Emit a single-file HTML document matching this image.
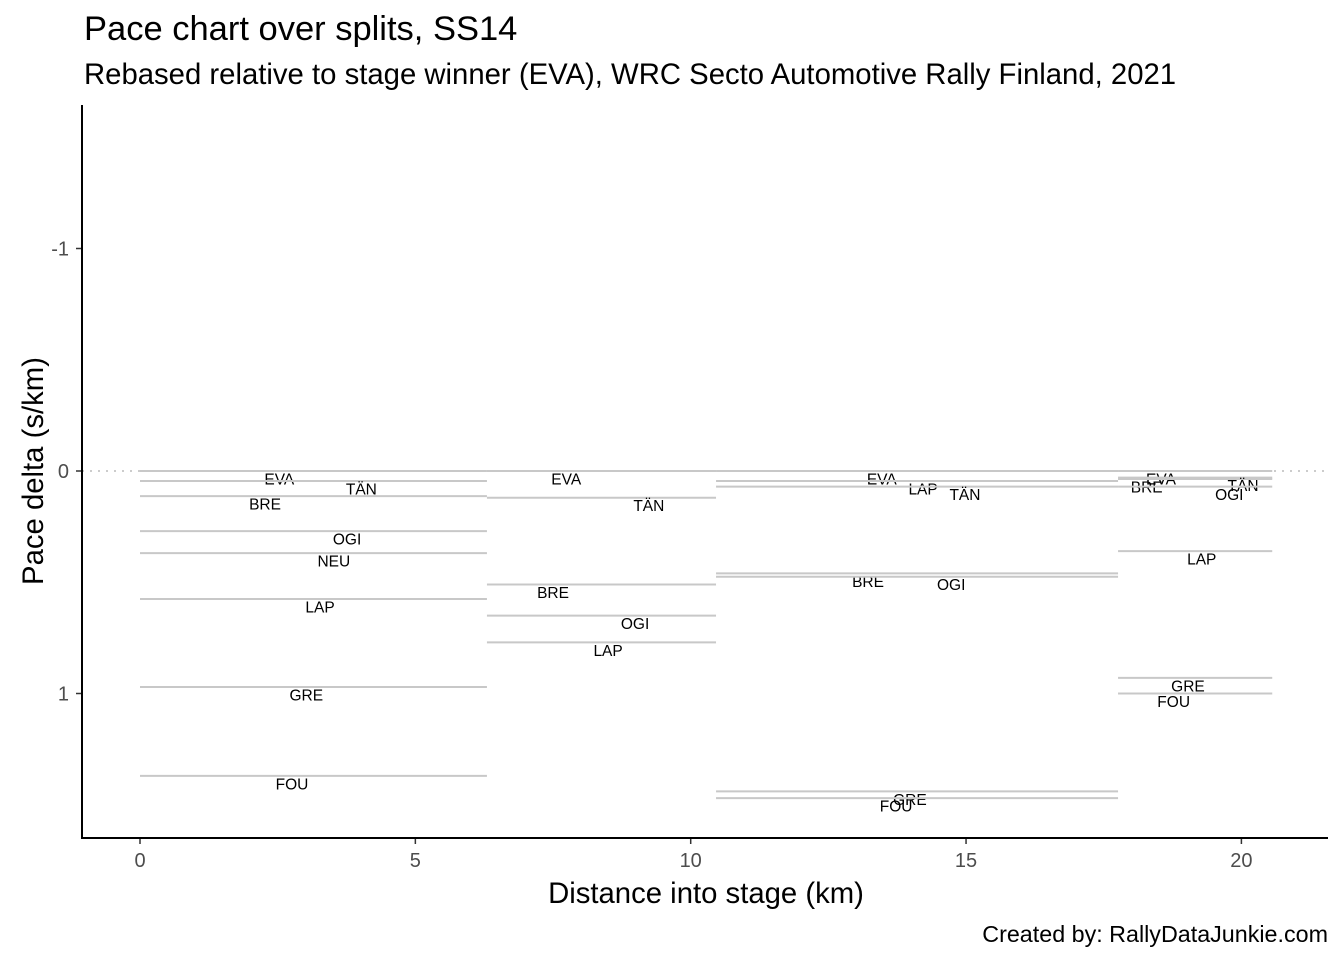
<!DOCTYPE html>
<html><head><meta charset="utf-8"><style>
html,body{margin:0;padding:0;background:#fff;}
svg{display:block;font-family:"Liberation Sans",Arial,sans-serif;}
</style></head><body>
<svg id="chart" width="1344" height="960" viewBox="0 0 1344 960">
<text x="84" y="40" font-size="34.5" fill="#000">Pace chart over splits, SS14</text>
<text x="84" y="84" font-size="29.3" fill="#000">Rebased relative to stage winner (EVA), WRC Secto Automotive Rally Finland, 2021</text>
<text x="706" y="903" font-size="29.3" text-anchor="middle" fill="#000">Distance into stage (km)</text>
<text transform="translate(43,471) rotate(-90)" font-size="29.3" text-anchor="middle" fill="#000">Pace delta (s/km)</text>
<text x="1328" y="942" font-size="23.3" text-anchor="end" fill="#000">Created by: RallyDataJunkie.com</text>
<g id="plot"></g>
</svg>
<script>
const splitStarts = [0, 6.3, 10.46, 17.76];
const splitEnds = [6.3, 10.46, 17.76, 20.56];
const split1Drivers = ["EVA","TÄN","BRE","OGI","NEU","LAP","GRE","FOU"];
const split1Values = [0,0.045,0.113,0.27,0.369,0.575,0.971,1.37];
const split1LabelKm = [2.53,4.02,2.27,3.76,3.52,3.27,3.02,2.76];
const split2Drivers = ["EVA","TÄN","BRE","OGI","LAP"];
const split2Values = [0,0.12,0.51,0.65,0.77];
const split2LabelKm = [7.74,9.24,7.5,8.99,8.5];
const split3Drivers = ["EVA","LAP","TÄN","BRE","OGI","GRE","FOU"];
const split3Values = [0,0.045,0.07,0.46,0.475,1.44,1.47];
const split3LabelKm = [13.47,14.22,14.98,13.22,14.73,13.98,13.73];
const split4Drivers = ["EVA","BRE","TÄN","OGI","LAP","GRE","FOU"];
const split4Values = [0,0.036,0.03,0.07,0.36,0.93,1.0];
const split4LabelKm = [18.54,18.28,20.03,19.78,19.28,19.03,18.77];
const xTicks = [0,5,10,15,20];
const yTicks = [-1,0,1];

const NS="http://www.w3.org/2000/svg";
const g=document.getElementById('plot');
const xs=v=>140+v*55.07;
const ys=v=>471+v*222.5;
function mk(tag,attrs,parent){const e=document.createElementNS(NS,tag);for(const k in attrs)e.setAttribute(k,attrs[k]);(parent||g).appendChild(e);return e;}

const zl=mk('line',{x1:82,x2:1328,y1:ys(0),y2:ys(0),stroke:'#cccccc','stroke-width':2,'stroke-dasharray':'2,6'});



const splits=[[split1Drivers,split1Values,split1LabelKm],[split2Drivers,split2Values,split2LabelKm],[split3Drivers,split3Values,split3LabelKm],[split4Drivers,split4Values,split4LabelKm]];
splits.forEach((s,si)=>{
  s[0].forEach((d,i)=>{
    const y=ys(s[1][i]);
    const l=mk('line',{x1:xs(splitStarts[si]),x2:xs(splitEnds[si]),y1:y,y2:y,stroke:'#c8c8c8','stroke-width':2});
    
    
    const t=mk('text',{x:xs(s[2][i]),y:y+13.5,'font-size':15.5,'text-anchor':'middle',fill:'#000'});
    t.textContent=d;
    
    
  });
});

const ax=mk('line',{x1:82,x2:82,y1:105,y2:839,stroke:'#000','stroke-width':2});


const bx=mk('line',{x1:81,x2:1328,y1:838,y2:838,stroke:'#000','stroke-width':2});



xTicks.forEach(v=>{
  const tk=mk('line',{x1:xs(v),x2:xs(v),y1:839,y2:844,stroke:'#333','stroke-width':1.5});
  
  
  const t=mk('text',{x:xs(v),y:867,'font-size':20,'text-anchor':'middle',fill:'#4d4d4d'});
  t.textContent=v;
  
  
});
yTicks.forEach(v=>{
  const tk=mk('line',{x1:76,x2:81,y1:ys(v),y2:ys(v),stroke:'#333','stroke-width':1.5});
  
  
  const t=mk('text',{x:69,y:ys(v)+7,'font-size':20,'text-anchor':'end',fill:'#4d4d4d'});
  t.textContent=v;
  
  
});
</script>
</body></html>
